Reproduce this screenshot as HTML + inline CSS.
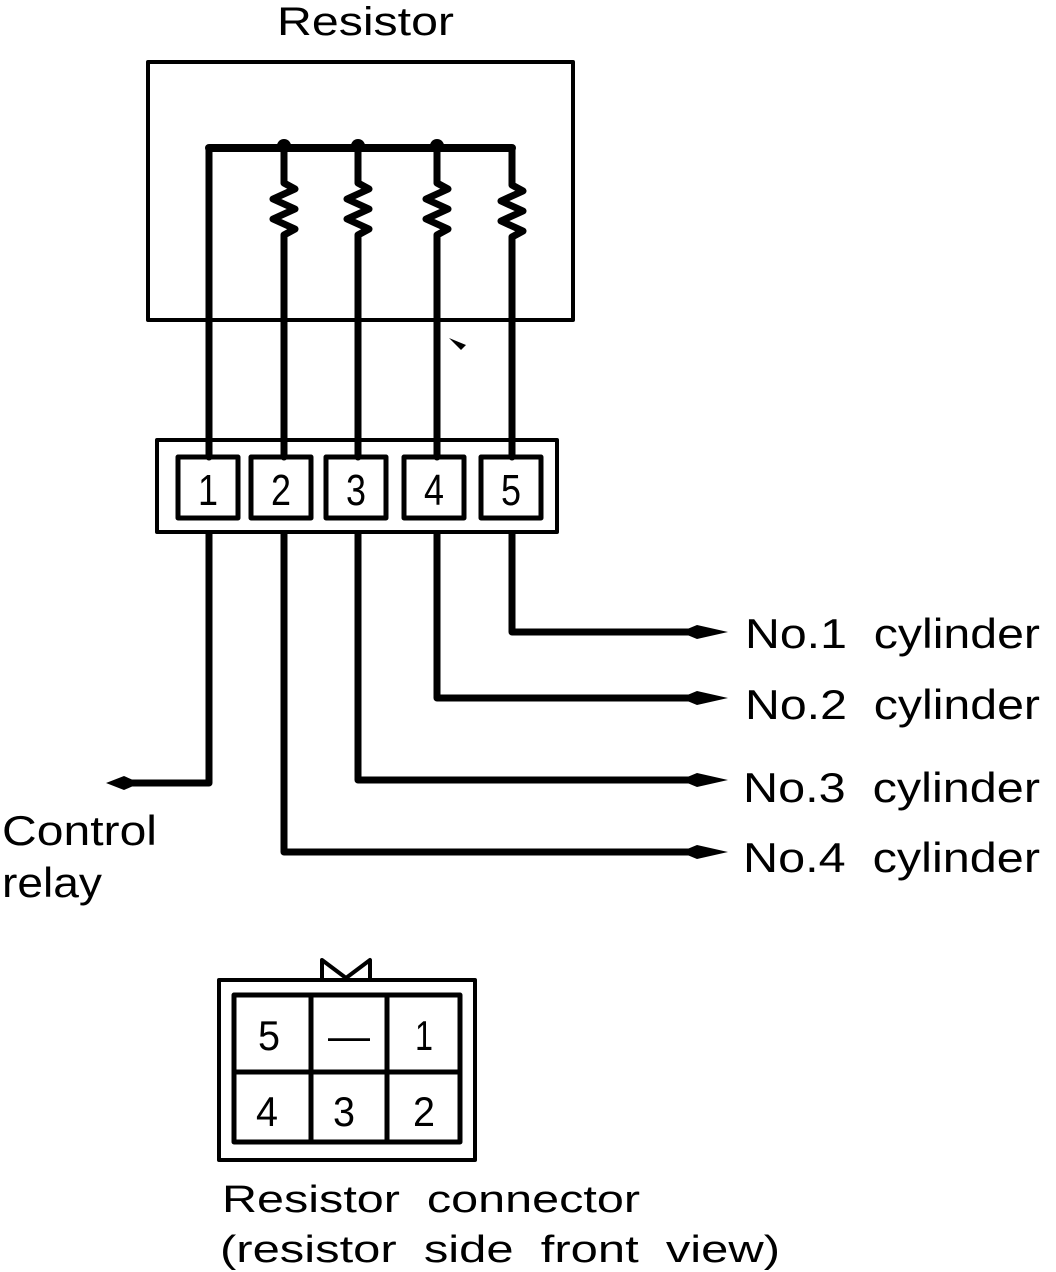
<!DOCTYPE html>
<html><head><style>html,body{margin:0;padding:0;background:#fff}svg{display:block}text{white-space:pre}</style></head>
<body>
<svg width="1056" height="1272" viewBox="0 0 1056 1272" xmlns="http://www.w3.org/2000/svg" font-family="Liberation Sans, sans-serif">
<rect width="1056" height="1272" fill="#fff"/>
<g fill="none" stroke="#000" stroke-linejoin="round" stroke-linecap="round">
<text x="277" y="35" font-size="40" fill="#000" stroke="none" textLength="177" lengthAdjust="spacingAndGlyphs">Resistor</text>
<rect x="148" y="62" width="425" height="258" stroke-width="4"/>
<path d="M209 148 H512" stroke-width="8"/>
<g stroke-width="7">
<path d="M209 148 V783 H125"/>
<path d="M284 148 V183 L295 189 L273 199 L295 209 L273 219 L295 229 L284 235 V852 H690"/>
<path d="M358 148 V183 L369 189 L347 199 L369 209 L347 219 L369 229 L358 235 V780 H690"/>
<path d="M437 148 V183 L448 189 L426 199 L448 209 L426 219 L448 229 L437 235 V698 H690"/>
<path d="M512 148 V185 L523 191 L501 201 L523 211 L501 221 L523 231 L512 237 V632 H690"/>
</g>
<g fill="#000" stroke="none">
<circle cx="284" cy="146" r="7"/><circle cx="358" cy="146" r="7"/><circle cx="437" cy="146" r="7"/>
<path d="M680 632 L697 625 L728 632 L697 639Z"/>
<path d="M680 698 L697 691 L728 698 L697 705Z"/>
<path d="M680 780 L697 773 L728 780 L697 787Z"/>
<path d="M680 852 L697 845 L728 852 L697 859Z"/>
<path d="M140 783 L124 776 L106 783 L124 790Z"/>
<path d="M449 338 L466 345 L461 350Z"/>
</g>
<rect x="157" y="440" width="400" height="92" stroke-width="4" fill="#fff"/>
<g stroke-width="5" fill="#fff">
<rect x="178" y="457" width="60" height="61"/>
<rect x="251" y="457" width="60" height="61"/>
<rect x="326" y="457" width="60" height="61"/>
<rect x="404" y="457" width="60" height="61"/>
<rect x="481" y="457" width="60" height="61"/>
</g>
<g stroke-width="7"><path d="M209 440 V457M284 440 V457M358 440 V457M437 440 V457M512 440 V457"/></g>
<g font-size="44" fill="#000" stroke="none" text-anchor="middle">
<text x="208" y="505" textLength="20" lengthAdjust="spacingAndGlyphs">1</text><text x="281" y="505" textLength="20" lengthAdjust="spacingAndGlyphs">2</text><text x="356" y="505" textLength="20" lengthAdjust="spacingAndGlyphs">3</text><text x="434" y="505" textLength="20" lengthAdjust="spacingAndGlyphs">4</text><text x="511" y="505" textLength="20" lengthAdjust="spacingAndGlyphs">5</text>
</g>
<g font-size="42" fill="#000" stroke="none">
<text x="745" y="648" textLength="295" lengthAdjust="spacingAndGlyphs">No.1&#160;&#160;cylinder</text>
<text x="745" y="719" textLength="295" lengthAdjust="spacingAndGlyphs">No.2&#160;&#160;cylinder</text>
<text x="743" y="802" textLength="297" lengthAdjust="spacingAndGlyphs">No.3&#160;&#160;cylinder</text>
<text x="743" y="872" textLength="297" lengthAdjust="spacingAndGlyphs">No.4&#160;&#160;cylinder</text>
<text x="2" y="845" textLength="155" lengthAdjust="spacingAndGlyphs">Control</text>
<text x="2" y="897" textLength="100" lengthAdjust="spacingAndGlyphs">relay</text>
</g>
<path d="M322 980 V960 L346 978 L370 960 V980" stroke-width="4"/>
<rect x="219" y="980" width="256" height="180" stroke-width="4"/>
<rect x="234" y="995" width="226" height="147" stroke-width="5"/>
<path d="M234 1072 H460 M311 995 V1142 M387 995 V1142" stroke-width="5"/>
<g font-size="42" fill="#000" stroke="none" text-anchor="middle">
<text x="269" y="1050" textLength="22" lengthAdjust="spacingAndGlyphs">5</text><text x="349" y="1050">—</text><text x="424" y="1050" textLength="18" lengthAdjust="spacingAndGlyphs">1</text>
<text x="267" y="1126" textLength="22" lengthAdjust="spacingAndGlyphs">4</text><text x="344" y="1126" textLength="22" lengthAdjust="spacingAndGlyphs">3</text><text x="424" y="1126" textLength="22" lengthAdjust="spacingAndGlyphs">2</text>
</g>
<g font-size="38" fill="#000" stroke="none">
<text x="222" y="1212" textLength="418" lengthAdjust="spacingAndGlyphs">Resistor&#160;&#160;connector</text>
<text x="220" y="1262" textLength="560" lengthAdjust="spacingAndGlyphs">(resistor&#160;&#160;side&#160;&#160;front&#160;&#160;view)</text>
</g>
</g>
</svg>
</body></html>
